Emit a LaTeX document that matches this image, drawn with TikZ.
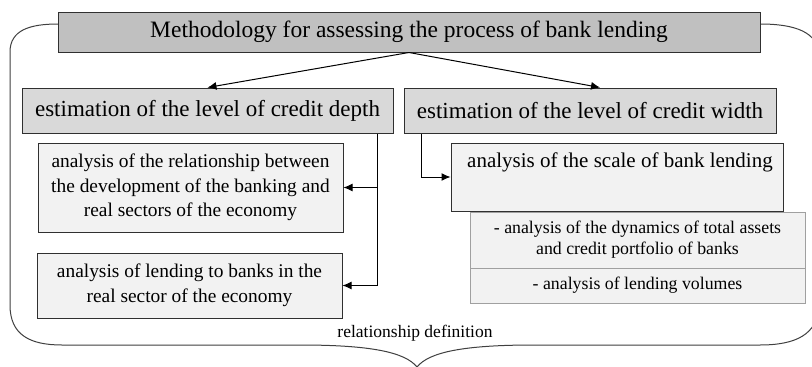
\documentclass[tikz,border=0pt]{standalone}
\usepackage{fontspec}
\setmainfont{Liberation Serif}
\usetikzlibrary{arrows.meta,calc}
\definecolor{fillA}{HTML}{C0C0C0}
\definecolor{fillB}{HTML}{D9D9D9}
\definecolor{fillC}{HTML}{F2F2F2}
\definecolor{edgeA}{HTML}{303030}
\definecolor{edgeB}{HTML}{A0A0A0}
\definecolor{braceC}{HTML}{404040}
\begin{document}
\begin{tikzpicture}[x=1pt,y=-1pt,
  box/.style={draw=edgeA, line width=1pt, inner sep=0pt, align=center},
  topbox/.style={box, fill=fillA, font=\fontsize{23.5}{28}\selectfont},
  levbox/.style={box, fill=fillB, font=\fontsize{23}{27}\selectfont},
  anbox/.style={box, fill=fillC, font=\fontsize{19.4}{24.5}\selectfont},
  subbox/.style={draw=edgeB, line width=1pt, inner sep=0pt, align=center, fill=fillC, font=\fontsize{17.8}{21}\selectfont},
  conn/.style={draw=black, line width=1pt, -{Latex[length=9pt,width=8pt]}},
  bracel/.style={draw=braceC, line width=1pt}
]
\clip (0,0) rectangle (812,367);
\fill[white] (0,0) rectangle (812,367);

% outer brace
\draw[bracel] (58,24) .. controls (30,24) and (10,30) .. (10,52)
  -- (10,305) .. controls (10,335) and (30,345) .. (62,345)
  -- (300,345) .. controls (370,345) and (405,352) .. (417,367)
  .. controls (429,352) and (464,345) .. (534,345)
  -- (760,345) .. controls (795,345) and (818,335) .. (819,305)
  -- (819,55) .. controls (818,32) and (795,24) .. (760,24);

% nodes
\node[topbox, minimum width=702, minimum height=40] (top) at (409,32) {Methodology for assessing the process of bank lending};
\node[levbox, minimum width=371, minimum height=45] (dbox) at (207.5,110.5) {estimation of the level of credit depth};
\node[levbox, minimum width=372, minimum height=45] (wbox) at (590,110.5) {estimation of the level of credit width};
\node[anbox, minimum width=305, minimum height=89] (rel) at (190.5,187.5) {analysis of the relationship between\\the development of the banking and\\real sectors of the economy};
\node[anbox, minimum width=305, minimum height=65] (lend) at (189.5,285.5) {analysis of lending to banks in the\\real sector of the economy};
\node[anbox, minimum width=332, minimum height=68] (scale) at (617,177) {};
\node[font=\fontsize{21}{25}\selectfont, inner sep=0pt] (scalet) at (620,162) {analysis of the scale of bank lending};
\node[subbox, minimum width=335, minimum height=56] (dyn) at (637.5,240) {- analysis of the dynamics of total assets\\and credit portfolio of banks};
\node[subbox, minimum width=335, minimum height=35] (vol) at (637.5,285.5) {- analysis of lending volumes};
\node[font=\fontsize{17.5}{21}\selectfont, inner sep=0pt] (reldef) at (415,333) {relationship definition};

% connectors
\coordinate (lv) at (377,0);
\coordinate (rv) at (421,0);
\draw[conn] (top.south) -- (dbox.north);
\draw[conn] (top.south) -- ($(wbox.north)+(10,0)$);
\draw[conn] (dbox.south -| lv) |- (lend.east);
\draw[conn] (rel.east -| lv) -- (rel.east);
\draw[conn] (wbox.south -| rv) |- (scale.west);
\end{tikzpicture}
\end{document}
